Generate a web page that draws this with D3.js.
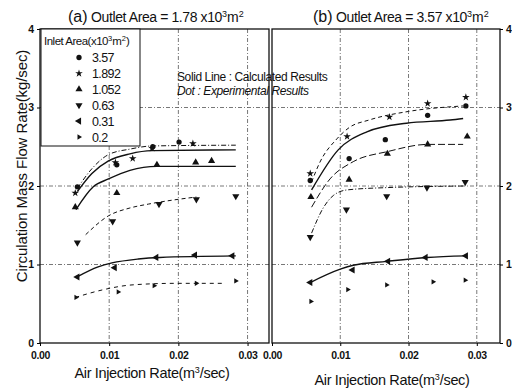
<!DOCTYPE html>
<html>
<head>
<meta charset="utf-8">
<script src="https://cdn.jsdelivr.net/npm/d3@7"></script>
<style>
  body { margin: 0; background: #fff; }
  svg { display: block; }
  text { font-family: "Liberation Sans", Arial, sans-serif; fill: #111; }
</style>
</head>
<body>
<svg id="chart" width="512" height="391"></svg>
<script>
// ---- data ----
var inletAreas = ["3.57", "1.892", "1.052", "0.63", "0.31", "0.2"];
var xTicks = [0, 0.01, 0.02, 0.03];
var xTickLabels = ["0.00", "0.01", "0.02", "0.03"];
var yTicks = [0, 1, 2, 3, 4];
var gridX = [0.01, 0.02, 0.03];
var gridY = [1, 2, 3];

// (a) experimental dots
var aDot357  = [[0.0054,1.99],[0.0111,2.27],[0.0163,2.50],[0.0201,2.56]];
var aDot1892 = [[0.0051,1.91],[0.0109,2.30],[0.0134,2.35],[0.0162,2.48],[0.0221,2.54]];
var aDot1052 = [[0.0051,1.73],[0.0111,1.91],[0.0169,2.27],[0.0225,2.30],[0.0248,2.32]];
var aDot063  = [[0.0054,1.28],[0.0105,1.55],[0.0172,1.77],[0.0226,1.83],[0.0283,1.87]];
var aDot031  = [[0.0054,0.84],[0.0108,0.96],[0.0168,1.09],[0.0224,1.12],[0.0278,1.11]];
var aDot02   = [[0.0052,0.58],[0.0113,0.65],[0.0165,0.73],[0.0226,0.76],[0.0283,0.79]];

// (a) calculated curves
var aLine1 = [[0.0054,1.97],[0.0075,2.22],[0.0099,2.40],[0.0130,2.47],[0.0162,2.51],[0.0283,2.52]];
var aLine2 = [[0.0054,1.93],[0.0075,2.16],[0.0099,2.32],[0.0130,2.41],[0.0162,2.45],[0.0283,2.46]];
var aLine3 = [[0.0052,1.70],[0.0077,1.99],[0.0099,2.09],[0.0130,2.20],[0.0169,2.25],[0.0283,2.25]];
var aLine4 = [[0.0066,1.38],[0.0099,1.62],[0.0130,1.72],[0.0157,1.77],[0.0226,1.86]];
var aLine5 = [[0.0053,0.84],[0.0084,0.97],[0.0104,1.02],[0.0142,1.07],[0.0173,1.09],[0.0283,1.11]];
var aLine6 = [[0.0051,0.58],[0.0092,0.68],[0.0133,0.74],[0.0195,0.76],[0.0263,0.76]];

// (b) experimental dots
var bDot357  = [[0.0056,2.07],[0.0113,2.35],[0.0166,2.59],[0.0228,2.90],[0.0284,3.02]];
var bDot1892 = [[0.0056,2.16],[0.0110,2.63],[0.0172,2.88],[0.0228,3.05],[0.0284,3.13]];
var bDot1052 = [[0.0057,1.86],[0.0113,2.08],[0.0169,2.41],[0.0228,2.53],[0.0286,2.63]];
var bDot063  = [[0.0056,1.35],[0.0109,1.70],[0.0168,1.87],[0.0227,1.98],[0.0283,2.05]];
var bDot031  = [[0.0056,0.77],[0.0118,0.93],[0.0170,1.04],[0.0225,1.09],[0.0284,1.11]];
var bDot02   = [[0.0057,0.53],[0.0111,0.68],[0.0168,0.74],[0.0236,0.78],[0.0283,0.80]];

// (b) calculated curves
var bLine1 = [[0.0058,2.05],[0.0070,2.30],[0.0095,2.60],[0.0114,2.75],[0.0142,2.84],[0.0200,2.95],[0.0280,3.02]];
var bLine2 = [[0.0058,1.95],[0.0097,2.46],[0.0139,2.69],[0.0197,2.80],[0.0261,2.84],[0.0280,2.86]];
var bLine3 = [[0.0058,1.73],[0.0085,2.09],[0.0119,2.31],[0.0170,2.44],[0.0228,2.53],[0.0280,2.53]];
var bLine4 = [[0.0058,1.40],[0.0075,1.72],[0.0090,1.88],[0.0110,1.95],[0.0170,1.98],[0.0283,2.00]];
var bLine5 = [[0.0056,0.77],[0.0100,0.94],[0.0119,0.99],[0.0168,1.04],[0.0227,1.09],[0.0284,1.11]];

// ---- drawing ----
var svg = d3.select("#chart");
var plotTop = 29, plotBottom = 343;

var y = d3.scaleLinear().domain([0, 4]).range([plotBottom, plotTop]);

// marker shapes per inlet area
var shapes = [
  { type: d3.symbolCircle,   size: 22, rot: 0 },
  { type: d3.symbolStar,     size: 18, rot: 0 },
  { type: d3.symbolTriangle, size: 22, rot: 0 },
  { type: d3.symbolTriangle, size: 22, rot: 180 },
  { type: d3.symbolTriangle, size: 22, rot: -90 },
  { type: d3.symbolTriangle, size: 12, rot: 90 }
];

function gridStyle(sel) {
  sel.attr("stroke", "#555").attr("stroke-width", 0.8)
    .attr("stroke-dasharray", "4,2,1,2").attr("fill", "none");
}

function drawPanel(x, dots, curves, sideRight) {
  var g = svg.append("g");
  var x0 = x.range()[0], x1 = x.range()[1];

  g.selectAll(".gx").data(gridX).enter().append("line")
    .attr("x1", function (d) { return x(d); }).attr("x2", function (d) { return x(d); })
    .attr("y1", plotTop).attr("y2", plotBottom).call(gridStyle);
  g.selectAll(".gy").data(gridY).enter().append("line")
    .attr("x1", x0).attr("x2", x1)
    .attr("y1", function (d) { return y(d); }).attr("y2", function (d) { return y(d); })
    .call(gridStyle);

  var line = d3.line()
    .x(function (d) { return x(d[0]); })
    .y(function (d) { return y(d[1]); })
    .curve(d3.curveMonotoneX);

  curves.forEach(function (c) {
    g.append("path").datum(c.data)
      .attr("d", line)
      .attr("fill", "none")
      .attr("stroke", "#111")
      .attr("stroke-width", c.dash ? 1 : 1.4)
      .attr("stroke-dasharray", c.dash || null);
  });

  dots.forEach(function (pts, i) {
    var s = shapes[i];
    g.selectAll(null).data(pts).enter().append("path")
      .attr("d", d3.symbol().type(s.type).size(s.size))
      .attr("transform", function (d) {
        return "translate(" + x(d[0]) + "," + y(d[1]) + ") rotate(" + s.rot + ")";
      })
      .attr("fill", "#111");
  });

  // frame
  g.append("rect").attr("x", x0).attr("y", plotTop)
    .attr("width", x1 - x0).attr("height", plotBottom - plotTop)
    .attr("fill", "none").attr("stroke", "#111").attr("stroke-width", 1.3);

  // x axis
  var xa = g.append("g").attr("transform", "translate(0," + plotBottom + ")")
    .call(d3.axisBottom(x).tickValues(xTicks).tickSize(3)
      .tickFormat(function (d, i) { return xTickLabels[i]; }));
  xa.select(".domain").remove();
  xa.selectAll("text").attr("font-size", 10.5).attr("font-weight", "bold")
    .attr("dy", "0.95em").attr("letter-spacing", -0.3)
    .attr("font-family", "'Liberation Sans', Arial, sans-serif");

  // y axis
  var ya;
  if (sideRight) {
    ya = g.append("g").attr("transform", "translate(" + x1 + ",0)")
      .call(d3.axisRight(y).tickValues(yTicks).tickSize(3).tickFormat(d3.format("d")));
  } else {
    ya = g.append("g").attr("transform", "translate(" + x0 + ",0)")
      .call(d3.axisLeft(y).tickValues(yTicks).tickSize(3).tickFormat(d3.format("d")));
  }
  ya.select(".domain").remove();
  ya.selectAll("text").attr("font-size", 10.5).attr("font-weight", "bold")
    .attr("font-family", "'Liberation Sans', Arial, sans-serif");
  return g;
}

function richText(parent, x, y, parts, anchor) {
  var t = parent.append("text").attr("x", x).attr("y", y)
    .attr("text-anchor", anchor || "start");
  var shift = 0;
  parts.forEach(function (p) {
    var up = p.sup ? -p.sup : 0;
    t.append("tspan").text(p.t)
      .attr("font-size", p.size)
      .attr("dy", up - shift)
      .attr("font-style", p.italic ? "italic" : null)
      .attr("letter-spacing", p.ls != null ? p.ls : null);
    shift = up;
  });
  return t;
}

var xA = d3.scaleLinear().domain([0, 0.0331]).range([40, 269]);
var xB = d3.scaleLinear().domain([0, 0.0334]).range([272, 500]);

drawPanel(xA,
  [aDot357, aDot1892, aDot1052, aDot063, aDot031, aDot02],
  [{ data: aLine1, dash: "5,2,1,2" }, { data: aLine2 }, { data: aLine3 },
   { data: aLine4, dash: "4,3" }, { data: aLine5 }, { data: aLine6, dash: "4,4" }],
  false);

drawPanel(xB,
  [bDot357, bDot1892, bDot1052, bDot063, bDot031, bDot02],
  [{ data: bLine1, dash: "4,3" }, { data: bLine2 }, { data: bLine3, dash: "7,3" },
   { data: bLine4, dash: "5,2,1,2" }, { data: bLine5 }],
  true);

// legend
var lg = svg.append("g");
lg.append("rect").attr("x", 41).attr("y", 29).attr("width", 99).attr("height", 117)
  .attr("fill", "#fff").attr("stroke", "#111").attr("stroke-width", 1);
richText(lg, 44, 45, [
  { t: "Inlet Area(x10", size: 11.5, ls: -0.5 },
  { t: "3", size: 7.5, sup: 4 },
  { t: "m", size: 11.5 },
  { t: "2", size: 7.5, sup: 4 },
  { t: ")", size: 11.5 }
]);
var rowY = d3.scaleLinear().domain([0, 5]).range([57.5, 137]);
inletAreas.forEach(function (a, i) {
  var s = shapes[i];
  lg.append("path")
    .attr("d", d3.symbol().type(s.type).size(s.size))
    .attr("transform", "translate(79," + rowY(i) + ") rotate(" + s.rot + ")")
    .attr("fill", "#111");
  lg.append("text").attr("x", 92).attr("y", rowY(i) + 4.5)
    .attr("font-size", 12.5).attr("letter-spacing", -0.6).text(a);
});

// note
svg.append("text").attr("x", 177).attr("y", 81).attr("font-size", 12)
  .attr("letter-spacing", -0.4).text("Solid Line : Calculated Results");
svg.append("text").attr("x", 177).attr("y", 95).attr("font-size", 12)
  .attr("letter-spacing", -0.4).attr("font-style", "italic").text("Dot : Experimental Results");

// titles
richText(svg, 68, 22, [
  { t: "(a)", size: 16 },
  { t: " Outlet Area = 1.78 x10", size: 14, ls: -0.4 },
  { t: "3", size: 9, sup: 5 },
  { t: "m", size: 14 },
  { t: "2", size: 9, sup: 5 }
]);
richText(svg, 313, 22, [
  { t: "(b)", size: 16 },
  { t: " Outlet Area = 3.57 x10", size: 14, ls: -0.4 },
  { t: "3", size: 9, sup: 5 },
  { t: "m", size: 14 },
  { t: "2", size: 9, sup: 5 }
]);

// axis titles
var xTitle = [
  { t: "Air Injection Rate(m", size: 14.5, ls: -0.35 },
  { t: "3", size: 9, sup: 5 },
  { t: "/sec)", size: 14.5, ls: -0.35 }
];
richText(svg, 152, 378, xTitle, "middle");
richText(svg, 392, 385, xTitle, "middle");

svg.append("text")
  .attr("transform", "translate(27,166) rotate(-90)")
  .attr("text-anchor", "middle").attr("font-size", 15).attr("letter-spacing", -0.1)
  .text("Circulation Mass Flow Rate(kg/sec)");
</script>
</body>
</html>
